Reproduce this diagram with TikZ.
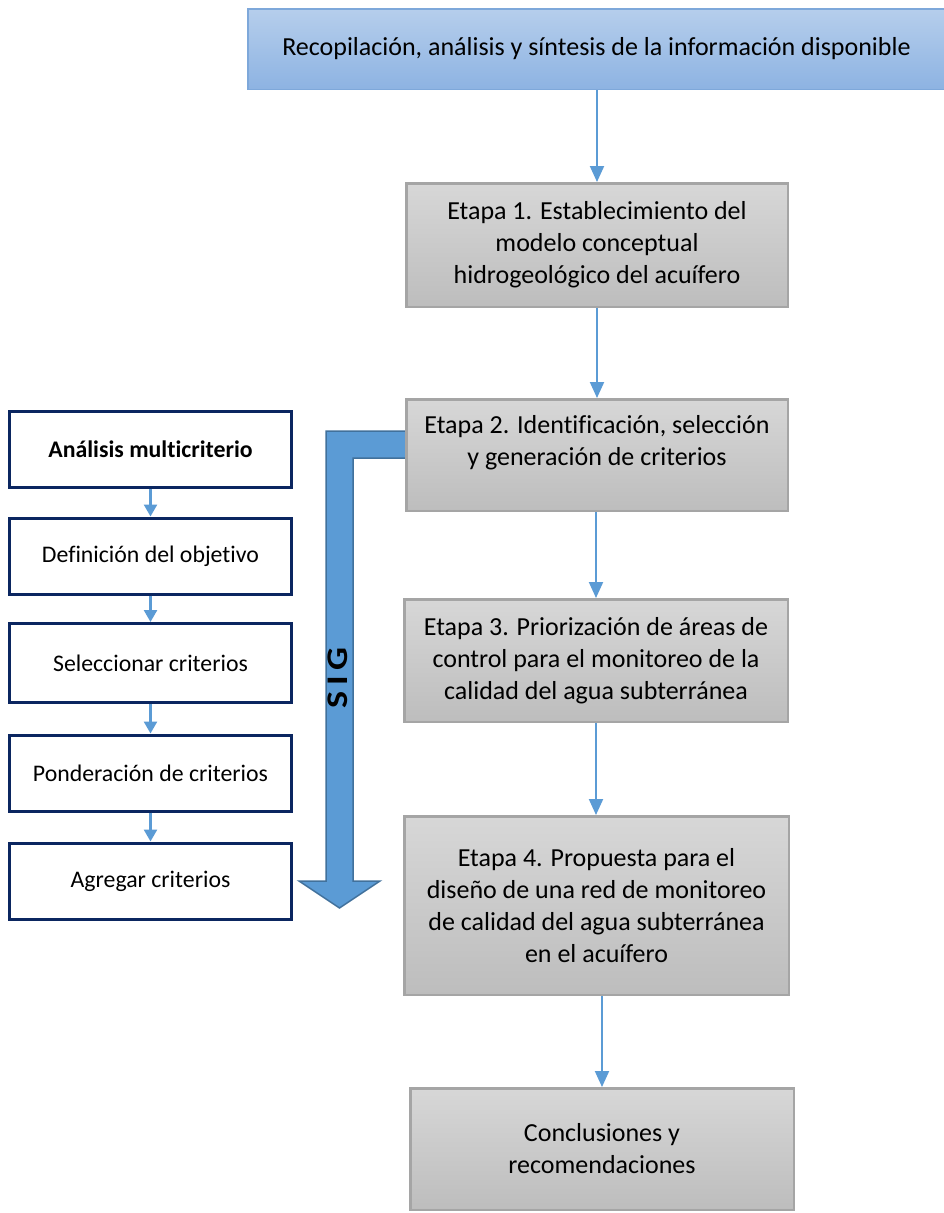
\documentclass[tikz,border=0pt]{standalone}
\usepackage{fontspec}
\setmainfont{Carlito}[Ligatures=CommonOff]
\usetikzlibrary{arrows.meta,calc}
\definecolor{arrblue}{HTML}{5B9BD5}
\definecolor{sigedge}{HTML}{41719C}
\definecolor{navy}{HTML}{0B2660}
\definecolor{grayedge}{HTML}{A5A5A5}
\definecolor{graytop}{HTML}{D7D7D7}
\definecolor{graybot}{HTML}{BDBDBD}
\definecolor{bluetop}{HTML}{B6CEEC}
\definecolor{bluebot}{HTML}{8DB3E2}
\definecolor{blueedge}{HTML}{7EA8DA}
\begin{document}
\begin{tikzpicture}[x=1pt,y=-1pt,
  topbox/.style={draw=blueedge, line width=1.5pt, top color=bluetop, bottom color=bluebot,
    minimum width=697.5pt, minimum height=80.5pt, inner sep=0pt,
    font=\fontsize{26}{32}\selectfont},
  graybox/.style={draw=grayedge, line width=2.5pt, top color=graytop, bottom color=graybot,
    inner sep=0pt, align=center, font=\fontsize{26}{32}\selectfont},
  gtext/.style={inner sep=0pt, align=center, font=\fontsize{26}{32}\selectfont},
  lbox/.style={draw=navy, line width=3pt, fill=white, minimum width=282pt, minimum height=76pt,
    inner sep=0pt, font=\fontsize{23.8}{28}\selectfont},
  marr/.style={draw=arrblue, line width=2pt, -{Triangle[width=14pt,length=16pt]}},
  sarr/.style={draw=arrblue, line width=2.5pt, -{Triangle[width=13pt,length=12pt]}},
]
\clip (0,0) rectangle (944,1213);
\fill[white] (0,0) rectangle (944,1213);

% SIG bent arrow
\draw[fill=arrblue, draw=sigedge, line width=1.5pt, line join=miter]
  (412,431) -- (326,431) -- (326,881) -- (299,881) -- (339.5,908) -- (380,881)
  -- (353,881) -- (353,458) -- (412,458) -- cycle;
\node[rotate=90, inner sep=0pt, font=\fontsize{30}{34}\selectfont\bfseries] (sig) at (338,678)
  {\scalebox{1.2}[1]{S\hspace{5pt}I\hspace{5pt}G}};

% main column
\node[topbox] (t0) at (596.5,49) {Recopilación, análisis y síntesis de la información disponible};
\node[graybox, minimum width=381.5pt, minimum height=123.5pt] (e1) at (597,245)
  {Etapa 1. Establecimiento del\\modelo conceptual\\hidrogeológico del acuífero};
\node[graybox, minimum width=381.5pt, minimum height=111.5pt] (e2) at (597,455) {};
\node[gtext] (e2t) at (597,443) {Etapa 2. Identificación, selección\\y generación de criterios};
\node[graybox, minimum width=383.5pt, minimum height=122.5pt] (e3) at (596,660.5)
  {Etapa 3. Priorización de áreas de\\control para el monitoreo de la\\calidad del agua subterránea};
\node[graybox, minimum width=384.5pt, minimum height=178.5pt] (e4) at (596.5,905.5)
  {Etapa 4. Propuesta para el\\diseño de una red de monitoreo\\de calidad del agua subterránea\\en el acuífero};
\node[graybox, minimum width=383.5pt, minimum height=121.5pt] (c) at (602,1149)
  {Conclusiones y\\recomendaciones};

\draw[marr] (t0.south -| e1.north) -- (e1.north);
\draw[marr] (e1.south) -- (e2.north);
\draw[marr] (e2.south -| e3.north) -- (e3.north);
\draw[marr] (e3.south) -- (e3.south |- e4.north);
\draw[marr] (e4.south -| c.north) -- (c.north);

% left column
\node[lbox, font=\fontsize{23.8}{28}\selectfont\bfseries] (l1) at (150.5,449.5) {Análisis multicriterio};
\node[lbox] (l2) at (150.5,556) {Definición del objetivo};
\node[lbox, minimum height=79pt] (l3) at (150.5,663) {Seleccionar criterios};
\node[lbox] (l4) at (150.5,773) {Ponderación de criterios};
\node[lbox] (l5) at (150.5,881) {Agregar criterios};

\draw[sarr] (l1.south) -- (l2.north);
\draw[sarr] (l2.south) -- (l3.north);
\draw[sarr] (l3.south) -- (l4.north);
\draw[sarr] (l4.south) -- (l5.north);
\end{tikzpicture}
\end{document}
